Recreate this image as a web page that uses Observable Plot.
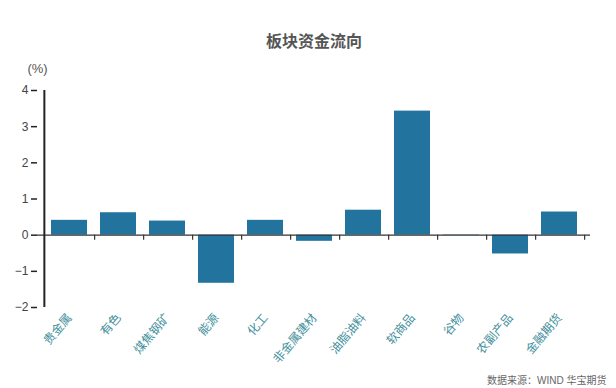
<!DOCTYPE html>
<html>
<head>
<meta charset="utf-8">
<script src="https://cdn.jsdelivr.net/npm/d3@7"></script>
<script src="https://cdn.jsdelivr.net/npm/@observablehq/plot@0.6"></script>
<style>
  html, body { margin: 0; padding: 0; background: #fff; }
  #chart svg { display: block; }
</style>
</head>
<body>
<div id="chart"></div>
<script>
const categories = ["贵金属", "有色", "煤焦钢矿", "能源", "化工", "非金属建材", "油脂油料", "软商品", "谷物", "农副产品", "金融期货"];
const values = [0.41, 0.62, 0.39, -1.33, 0.41, -0.17, 0.69, 3.43, 0.01, -0.52, 0.64];
const yTicks = [-2, -1, 0, 1, 2, 3, 4];
const title = "板块资金流向";
const unitLabel = "(%)";
const caption = "数据来源：WIND 华宝期货";

const data = categories.map((c, i) => ({category: c, value: values[i]}));

const W = 616, H = 388;
const mL = 37, mR = 26, mT = 90, mB = 81;
const step = (W - mL - mR) / categories.length;
const font = '"Liberation Sans", Arial, "Noto Sans CJK SC", sans-serif';

const chart = Plot.plot({
  width: W,
  height: H,
  marginLeft: mL,
  marginRight: mR,
  marginTop: mT,
  marginBottom: mB,
  style: {fontFamily: font, fontSize: "12px", color: "#444", background: "#fff"},
  x: {domain: categories, padding: 0.27, label: null},
  y: {domain: [-2, 4], label: null},
  marks: [
    Plot.barY(data, {x: "category", y: "value", fill: "#22749e"}),
    Plot.ruleY([0], {stroke: "#333", strokeWidth: 1.2}),
    Plot.ruleX(categories, {x: d => d, y1: 0, y2: 0, insetBottom: -5, dx: step / 2, stroke: "#333", strokeWidth: 1.2}),
    Plot.ruleX([categories[0]], {x: d => d, y1: -2, y2: 4, dx: -step / 2, stroke: "#222", strokeWidth: 2}),
    Plot.axisY({ticks: yTicks, tickFormat: d3.format("d"), tickSize: 6, tickPadding: 3, stroke: "#222", strokeWidth: 1.5, fill: "#444", fontSize: 12, label: null}),
    Plot.axisX({anchor: "bottom", tickSize: 0, tickPadding: 8, tickRotate: -50, fill: "#3f8f9c", fontSize: 12, label: null}),
    Plot.text([title], {frameAnchor: "top", dy: -55, fontSize: 16, fontWeight: "bold", fill: "#555"}),
    Plot.text([unitLabel], {frameAnchor: "top-left", dy: -27, textAnchor: "middle", fontSize: 13, fill: "#555"}),
    Plot.text([caption], {frameAnchor: "bottom-right", dx: 16, dy: 76, textAnchor: "end", fontSize: 10, fill: "#666"})
  ]
});
document.getElementById("chart").appendChild(chart);
</script>
</body>
</html>
